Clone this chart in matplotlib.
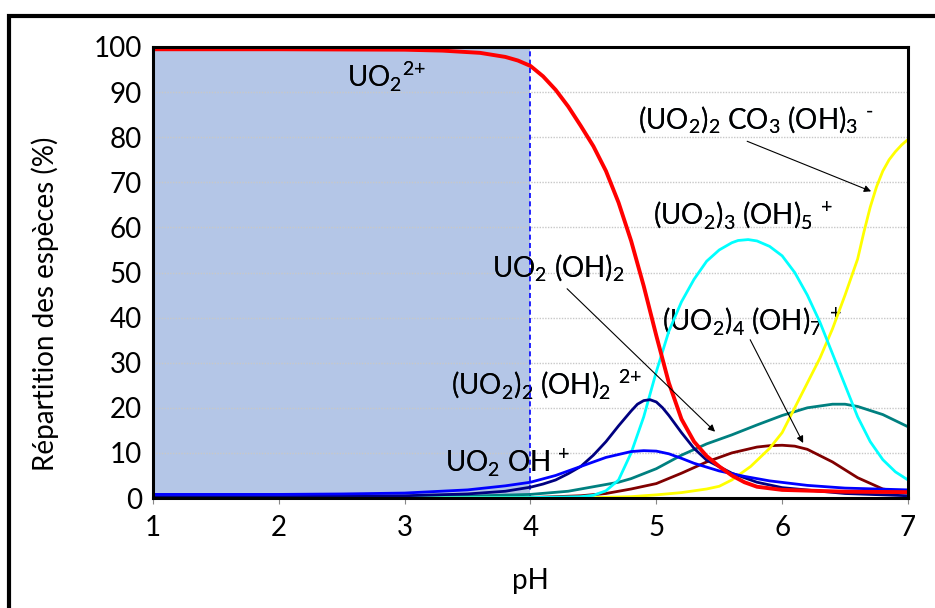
import numpy as np
import matplotlib
matplotlib.use('Agg')
import matplotlib.pyplot as plt
from matplotlib.patches import Rectangle

plt.rcParams['font.family'] = ['Lato', 'DejaVu Sans']
plt.rcParams['mathtext.fontset'] = 'custom'
plt.rcParams['mathtext.rm'] = 'Lato'

# --- data (pH, % of species) ---
ph_uo2 = [1, 2, 3, 3.3, 3.6, 3.8, 3.9, 4.0, 4.1, 4.2, 4.3, 4.4, 4.5, 4.6, 4.7, 4.8,
          4.9, 5.0, 5.1, 5.2, 5.3, 5.4, 5.5, 5.6, 5.7, 5.8, 6.0, 6.5, 7.0]
uo2 = [99.5, 99.5, 99.4, 99.2, 98.7, 97.8, 97.0, 95.8, 93.5, 90.5, 86.8, 82.5, 78, 72.5, 65.5, 57,
       47, 36, 25.5, 17.5, 12.5, 9.3, 7.0, 5.0, 3.5, 2.5, 1.8, 1.4, 1.3]

ph_uo2oh = [1, 2, 2.5, 3, 3.5, 3.8, 4.0, 4.2, 4.4, 4.6, 4.8, 4.9, 5.0, 5.1, 5.2,
            5.3, 5.5, 5.7, 5.9, 6.2, 6.5, 7.0]
uo2oh = [0.8, 0.8, 0.9, 1.1, 1.8, 2.7, 3.5, 5, 7, 9, 10.3, 10.5, 10.4, 9.8, 8.8,
         7.7, 6, 4.8, 3.8, 2.8, 2.2, 1.8]

ph_dimer = [1, 2, 3, 3.5, 3.8, 4.0, 4.1, 4.2, 4.3, 4.4, 4.5, 4.6, 4.7, 4.8, 4.85, 4.9, 4.95, 5.0,
            5.05, 5.1, 5.2, 5.3, 5.4, 5.6, 5.8, 6.0, 6.5, 7.0]
dimer = [0.3, 0.3, 0.5, 0.9, 1.5, 2.4, 3.1, 4, 5.4, 7, 9.5, 12.5, 16, 19.3, 20.8, 21.6, 21.8, 21.3,
         20, 18.3, 14.5, 11, 8.4, 5.5, 3.5, 2.3, 1, 0.5]

ph_uo2oh2 = [1, 3, 3.5, 4.0, 4.3, 4.5, 4.7, 4.8, 5.0, 5.2, 5.4, 5.6, 5.8, 6.0,
             6.2, 6.4, 6.5, 6.6, 6.8, 7.0]
uo2oh2 = [0.2, 0.3, 0.4, 0.8, 1.5, 2.5, 3.5, 4.3, 6.5, 9.5, 12, 14, 16.2, 18.3,
          20, 20.8, 20.8, 20.3, 18.5, 15.8]

ph_trimer = [1, 4.0, 4.4, 4.5, 4.6, 4.7, 4.8, 4.9, 5.0, 5.1, 5.2, 5.3, 5.4, 5.5, 5.6, 5.65,
             5.73, 5.8, 5.9, 6.0, 6.1, 6.2, 6.3, 6.4, 6.5, 6.6, 6.7, 6.8, 6.9, 7.0]
trimer = [0, 0.1, 0.3, 0.6, 1.6, 4, 10, 18, 28, 37, 43.5, 48.5, 52.5, 55, 56.6, 57.1,
          57.3, 57.0, 55.8, 53.7, 50, 45, 39, 32, 25, 18, 12.5, 8.5, 5.8, 4]

ph_tetra = [1, 4.0, 4.4, 4.6, 4.8, 5.0, 5.2, 5.4, 5.6, 5.8, 5.9, 6.0, 6.1, 6.2, 6.4, 6.6,
            6.8, 7.0]
tetra = [0, 0.1, 0.5, 1, 2, 3.2, 5.5, 8, 10, 11.3, 11.6, 11.7, 11.5, 10.8, 8, 4.5, 2, 1.2]

ph_carb = [1, 4.5, 4.8, 5.0, 5.2, 5.4, 5.5, 5.6, 5.75, 5.9, 6.0, 6.1, 6.2, 6.3,
           6.4, 6.5, 6.6, 6.65, 6.7, 6.75, 6.8, 6.85, 6.9, 6.95, 7.0]
carb = [0, 0.1, 0.3, 0.7, 1.2, 2, 2.6, 4, 7, 11, 14.5, 20, 25.5, 31,
        37.5, 45, 53, 59, 64.5, 69, 72.5, 75, 76.8, 78.3, 79.5]

fig = plt.figure(figsize=(9.35, 6.08), dpi=100)
ax = fig.add_axes([0.1636, 0.1809, 0.9711 - 0.1636, 0.9227 - 0.1809])

# shaded zone pH < 4
ax.add_patch(Rectangle((1, 0), 3, 100, facecolor='#b4c6e7', edgecolor='none', zorder=1))
ax.plot([4, 4], [0, 100], color='#0000ff', ls=(0, (3, 2)), lw=1.2, zorder=2.6)

for yv in range(10, 100, 10):
    ax.axhline(yv, color='#c8c8c8', lw=1.0, ls=(0, (1, 1)), zorder=2)

ax.plot(ph_uo2oh2, uo2oh2, color='#008080', lw=2.0, zorder=3)
ax.plot(ph_tetra, tetra, color='#800000', lw=2.0, zorder=3)
ax.plot(ph_carb, carb, color='#ffff00', lw=2.0, zorder=3)
ax.plot(ph_trimer, trimer, color='#00ffff', lw=2.0, zorder=3)
ax.plot(ph_dimer, dimer, color='#000080', lw=2.0, zorder=3)
ax.plot(ph_uo2oh, uo2oh, color='#0000ff', lw=2.0, zorder=3)
ax.plot(ph_uo2, uo2, color='#ff0000', lw=2.8, zorder=4)

ax.set_xlim(1, 7)
ax.set_ylim(0, 100)
ax.set_xticks(range(1, 8))
ax.set_yticks(range(0, 101, 10))
ax.tick_params(axis='x', labelsize=20, length=4, color='#888888', pad=8)
ax.tick_params(axis='y', labelsize=20, length=0, pad=8)
for s in ax.spines.values():
    s.set_linewidth(2.2)
    s.set_zorder(5)
ax.set_xlabel('pH', fontsize=20)
ax.xaxis.set_label_coords(0.5, -0.155)
ax.set_ylabel('Répartition des espèces (%)', fontsize=20, va='center')
ax.yaxis.set_label_coords(-0.143, 0.43)

shade = Rectangle((1, 0), 3, 100, transform=ax.transData)
clear = Rectangle((4, 0), 3, 100, transform=ax.transData)


def label(x, y, s):
    # text looks slate grey over the blue zone and black elsewhere
    for clip, col in ((shade, '#1f2d40'), (clear, 'black')):
        t = ax.text(x, y, s, fontsize=20, color=col, va='baseline', ha='left',
                    zorder=2.5)
        t.set_clip_path(clip)


sub = lambda v: r'$_\mathregular{%s}$' % v
sup = lambda v: r'$^\mathregular{%s}$' % v

label(2.54, 91.1, 'UO' + sub('2') + sup('2{+}'))
label(4.855, 81.8, '(UO' + sub('2') + ')' + sub('2') + ' CO' + sub('3') + ' (OH)' + sub('3') + ' ' + sup('‐'))
label(4.975, 60.7, '(UO' + sub('2') + ')' + sub('3') + ' (OH)' + sub('5') + ' ' + sup('{+}'))
label(3.695, 48.9, 'UO' + sub('2') + ' (OH)' + sub('2'))
label(5.046, 37.3, '(UO' + sub('2') + ')' + sub('4') + ' (OH)' + sub('7') + ' ' + sup('{+}'))
label(3.369, 22.9, '(UO' + sub('2') + ')' + sub('2') + ' (OH)' + sub('2') + ' ' + sup('2{+}'))
label(3.321, 5.8, 'UO' + sub('2') + ' OH ' + sup('{+}'))

arrow = dict(arrowstyle='-|>', lw=0.8, color='black', mutation_scale=10, shrinkA=0, shrinkB=0)
ax.annotate('', xy=(6.707, 68.0), xytext=(5.722, 79.1), arrowprops=arrow, zorder=6)
ax.annotate('', xy=(5.467, 14.7), xytext=(4.291, 46.4), arrowprops=arrow, zorder=6)
ax.annotate('', xy=(6.167, 12.2), xytext=(5.746, 35.1), arrowprops=arrow, zorder=6)

# outer frame around the chart
fig.patches.append(Rectangle((0.0096, -0.1), 1.2, 0.9737 + 0.1, transform=fig.transFigure,
                             fill=False, edgecolor='black', lw=3))

fig.savefig('out.png', dpi=100)
